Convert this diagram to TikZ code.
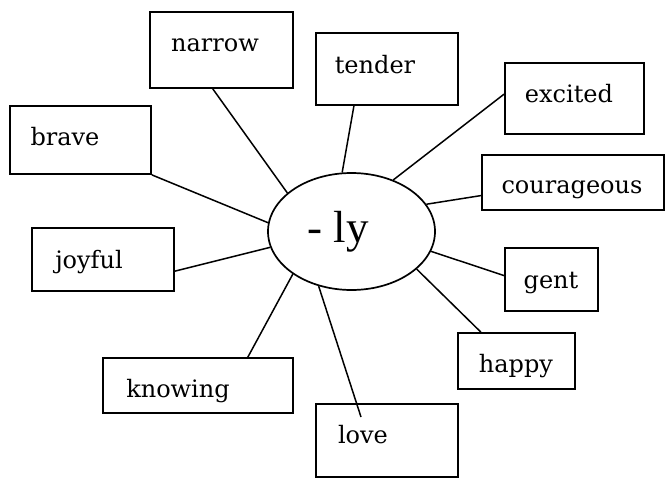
\documentclass[tikz,border=0pt]{standalone}
\usepackage{fontspec}
\setmainfont{DejaVu Serif}
\newfontfamily\lyfont{Liberation Serif}
\usetikzlibrary{shapes.geometric,calc}
\begin{document}
\begin{tikzpicture}[x=1pt,y=-1pt,
  wbox/.style={draw,line width=1.8pt,inner sep=0pt,rectangle},
  word/.style={anchor=base,inner sep=0pt,font=\fontsize{24}{28}\selectfont},
  conn/.style={line width=1.5pt}]
\useasboundingbox (0,0) rectangle (665,479);
% central ellipse
\node[draw,line width=1.7pt,ellipse,inner sep=0pt,minimum width=167pt,minimum height=117pt] (ly) at (351.5,231.5) {};
\node[anchor=base,inner sep=0pt,font=\lyfont\fontsize{45}{50}\selectfont] (lyt) at (338,242) {- ly};
% boxes
\node[wbox,minimum width=143pt,minimum height=76pt] (narrow) at (221.5,50) {};
\node[wbox,minimum width=142pt,minimum height=72pt] (tender) at (387,69) {};
\node[wbox,minimum width=139pt,minimum height=71pt] (excited) at (574.5,98.5) {};
\node[wbox,minimum width=182pt,minimum height=55pt] (courageous) at (573,182.5) {};
\node[wbox,minimum width=141pt,minimum height=68pt] (brave) at (80.5,140) {};
\node[wbox,minimum width=142pt,minimum height=63pt] (joyful) at (103,259.5) {};
\node[wbox,minimum width=190pt,minimum height=55pt] (knowing) at (198,385.5) {};
\node[wbox,minimum width=93pt,minimum height=63pt] (gent) at (551.5,279.5) {};
\node[wbox,minimum width=117pt,minimum height=56pt] (happy) at (516.5,361) {};
\node[wbox,minimum width=142pt,minimum height=73pt] (love) at (387,440.5) {};
% words
\node[word] (narrowt) at (215,52) {narrow};
\node[word] (tendert) at (375,73) {tender};
\node[word] (excitedt) at (569,102) {excited};
\node[word] (couraget) at (572,193) {courageous};
\node[word] (bravet) at (65,145) {brave};
\node[word] (joyfult) at (89,268) {joyful};
\node[word] (knowingt) at (178,397) {knowing};
\node[word] (gentt) at (551,288) {gent};
\node[word] (happyt) at (516,372) {happy};
\node[word] (lovet) at (363,443) {love};
\coordinate (loveend) at (361,417);
% connectors
\draw[conn] (ly.149) -- ($(narrow.south west)!0.44!(narrow.south east)$);
\draw[conn] (ly.99) -- ($(tender.south west)!0.27!(tender.south east)$);
\draw[conn] (ly.51) -- ($(excited.north west)!0.44!(excited.south west)$);
\draw[conn] (ly.20) -- ($(courageous.north west)!0.73!(courageous.south west)$);
\draw[conn] (ly.-14) -- ($(gent.north west)!0.44!(gent.south west)$);
\draw[conn] (ly.-30) -- ($(happy.north west)!0.2!(happy.north east)$);
\draw[conn] (ly.-121) -- (loveend);
\draw[conn] (ly.216) -- ($(knowing.north west)!0.76!(knowing.north east)$);
\draw[conn] (ly.191) -- ($(joyful.north east)!0.68!(joyful.south east)$);
\draw[conn] (ly.174) -- (brave.south east);
\end{tikzpicture}
\end{document}
